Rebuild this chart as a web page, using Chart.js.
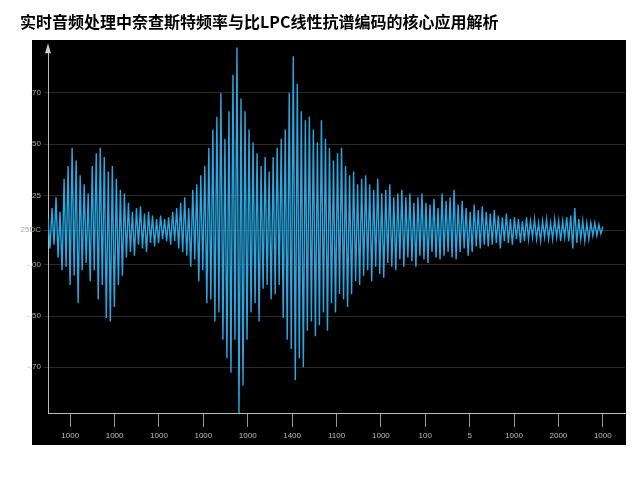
<!DOCTYPE html>
<html><head><meta charset="utf-8">
<script src="https://cdn.jsdelivr.net/npm/chart.js@4"></script>
<style>html,body{margin:0;background:#fff}</style></head>
<body><canvas id="c" width="640" height="480"></canvas>
<script>
const titleText = '实时音频处理中奈查斯特频率与比LPC线性抗谱编码的核心应用解析';
const amplitude = [
0.06,-0.1,0.12,-0.08,0.18,-0.15,0.1,-0.22,0.28,-0.2,
0.35,-0.3,0.45,-0.25,0.38,-0.4,0.3,-0.22,0.25,-0.18,
0.2,-0.28,0.35,-0.22,0.42,-0.38,0.45,-0.3,0.4,-0.48,
0.32,-0.5,0.35,-0.42,0.28,-0.3,0.22,-0.25,0.2,-0.15,
0.15,-0.12,0.1,-0.14,0.12,-0.08,0.13,-0.1,0.09,-0.12,
0.1,-0.07,0.08,-0.09,0.06,-0.07,0.08,-0.05,0.06,-0.06,
0.07,-0.08,0.1,-0.06,0.12,-0.1,0.15,-0.12,0.18,-0.14,
0.12,-0.2,0.22,-0.16,0.25,-0.28,0.3,-0.22,0.35,-0.4,
0.45,-0.38,0.55,-0.5,0.62,-0.45,0.75,-0.6,0.5,-0.7,
0.65,-0.78,0.85,-0.6,1.0,-1.0,0.72,-0.85,0.65,-0.6,
0.55,-0.45,0.48,-0.4,0.42,-0.5,0.35,-0.32,0.4,-0.3,
0.32,-0.38,0.4,-0.35,0.45,-0.3,0.5,-0.48,0.55,-0.6,
0.75,-0.65,0.95,-0.82,0.8,-0.7,0.65,-0.75,0.6,-0.55,
0.62,-0.5,0.55,-0.58,0.48,-0.52,0.6,-0.45,0.5,-0.55,
0.45,-0.4,0.38,-0.45,0.42,-0.35,0.45,-0.38,0.35,-0.42,
0.3,-0.35,0.32,-0.28,0.25,-0.3,0.28,-0.25,0.3,-0.22,
0.25,-0.28,0.22,-0.2,0.28,-0.24,0.2,-0.26,0.22,-0.18,
0.25,-0.2,0.18,-0.22,0.2,-0.16,0.22,-0.2,0.18,-0.15,
0.2,-0.17,0.15,-0.2,0.18,-0.14,0.2,-0.16,0.15,-0.18,
0.14,-0.12,0.17,-0.15,0.12,-0.16,0.2,-0.14,0.16,-0.12,
0.18,-0.15,0.22,-0.16,0.14,-0.12,0.16,-0.1,0.12,-0.14,
0.1,-0.12,0.14,-0.09,0.11,-0.1,0.13,-0.08,0.1,-0.09,
0.09,-0.08,0.11,-0.07,0.08,-0.1,0.07,-0.06,0.09,-0.07,
0.06,-0.08,0.07,-0.05,0.06,-0.07,0.05,-0.06,0.07,-0.05,
0.05,-0.04,0.06,-0.05,0.04,-0.06,0.05,-0.04,0.06,-0.05,
0.04,-0.05,0.06,-0.04,0.05,-0.06,0.05,-0.04,0.07,-0.06,
0.08,-0.1,0.12,-0.07,0.06,-0.05,0.05,-0.06,0.04,-0.05,
0.04,-0.03,0.04,-0.03,0.03,-0.02,0.02];
const xLabels = ['1000','1000','1000','1000','1000','1400','1100','1000','100','5','1000','2000','1000'];
const yTickValues = [0.75,0.47,0.19,0,-0.19,-0.47,-0.75];
const yTickLabels = ['.70','.50','.25','0.25DC','-.00','-.50','-.70'];

const panel = {id:'panel',beforeDraw(ch){const c=ch.ctx;c.save();c.fillStyle='#000';c.fillRect(32,40,594,405);c.restore();},
 afterDraw(ch){const c=ch.ctx,a=ch.chartArea;c.save();c.fillStyle='#ccc';c.beginPath();c.moveTo(a.left,a.top-4);c.lineTo(a.left-3,a.top+6);c.lineTo(a.left+3,a.top+6);c.fill();c.restore();}};
new Chart(document.getElementById('c'),{
 type:'line',
 data:{datasets:[{data:amplitude.map((v,i)=>({x:i,y:v})),borderColor:'#2aa7e0',borderWidth:1.4,pointRadius:0,tension:0,fill:false}]},
 plugins:[panel],
 options:{responsive:false,animation:false,
  layout:{padding:{left:20,right:15,top:0,bottom:32}},
  plugins:{legend:{display:false},tooltip:{enabled:false},
   title:{display:true,text:titleText,align:'start',color:'#000',font:{size:16,weight:'bold',family:'Noto Sans CJK SC'},padding:{top:12,bottom:16}}},
  scales:{
   x:{type:'linear',min:0,max:287,display:false},
   x2:{type:'category',labels:xLabels,offset:true,position:'bottom',
     border:{color:'#bbb'},grid:{drawOnChartArea:false,color:'#999',tickLength:14},
     ticks:{color:'#bbb',font:{size:8},padding:4},afterFit(s){s.height=35;}},
   y:{min:-1,max:1,border:{color:'#bbb'},
     afterBuildTicks(s){s.ticks=yTickValues.map(v=>({value:v}));},
     grid:{color:'#2a2a2a',tickLength:4},
     ticks:{color:'#aaa',font:{size:8},callback:(v,i)=>yTickLabels[i]},
     afterFit(s){s.width=28;}}
  }}
});
</script></body></html>
